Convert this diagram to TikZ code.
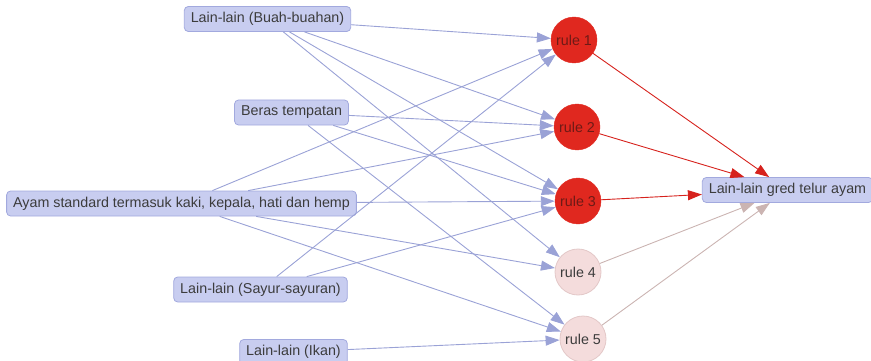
\documentclass[tikz,border=0pt]{standalone}
\usepackage{fontspec}
\setmainfont{Liberation Sans}
\usetikzlibrary{arrows.meta}

\definecolor{boxfill}{HTML}{C8CDF0}
\definecolor{boxline}{HTML}{A2A9DE}
\definecolor{edgeblue}{HTML}{9AA2D6}
\definecolor{rulered}{HTML}{E0281F}
\definecolor{rulepink}{HTML}{F4DCDC}
\definecolor{pinkline}{HTML}{E3C8C8}
\definecolor{redge}{HTML}{D6221D}
\definecolor{pedge}{HTML}{CBB4B2}
\definecolor{txt}{HTML}{3C3C3C}
\definecolor{hottxt}{HTML}{6E1A16}

\begin{document}
\begin{tikzpicture}[x=1pt,y=-1pt,
  label font/.style={font=\fontsize{14.3}{16}\selectfont},
  item/.style={label font, draw=boxline, fill=boxfill, rounded corners=4pt,
    minimum height=25pt, inner xsep=6.5pt, inner ysep=0pt, text=txt, line width=0.8pt},
  hotrule/.style={label font, circle, draw=rulered, fill=rulered, minimum size=46pt,
    inner sep=0pt, text=hottxt},
  coldrule/.style={label font, circle, draw=pinkline, fill=rulepink, minimum size=46pt,
    inner sep=0pt, line width=0.8pt, text=txt},
  tip/.style={-{Triangle[length=14pt,width=10pt]}},
  feed/.style={tip, draw=edgeblue, line width=0.9pt},
  firing/.style={tip, draw=redge, line width=0.9pt},
  idle/.style={tip, draw=pedge, line width=0.9pt}]

  \useasboundingbox (0,0) rectangle (871,361);

  % input facts
  \node[item] (buah)  at (267.5,19)  {Lain-lain (Buah-buahan)};
  \node[item] (beras) at (291.5,112.5) {Beras tempatan};
  \node[item] (ayam)  at (181.5,203.5) {Ayam standard termasuk kaki, kepala, hati dan hemp};
  \node[item] (sayur) at (260.5,289.5) {Lain-lain (Sayur-sayuran)};
  \node[item] (ikan)  at (293.5,352) {Lain-lain (Ikan)};

  % rules
  \node[hotrule]  (r1) at (574,40)  {rule 1};
  \node[hotrule]  (r2) at (577,127) {rule 2};
  \node[hotrule]  (r3) at (578,201) {rule 3};
  \node[coldrule] (r4) at (578,272) {rule 4};
  \node[coldrule] (r5) at (583,339) {rule 5};

  % conclusion
  \node[item] (out) at (787.5,190) {Lain-lain gred telur ayam};

  % facts feeding the rules
  \foreach \r in {r1,r2,r3,r4} \draw[feed] (buah) -- (\r);
  \foreach \r in {r2,r3,r5}    \draw[feed] (beras) -- (\r);
  \foreach \r in {r1,r2,r3,r4,r5} \draw[feed] (ayam) -- (\r);
  \foreach \r in {r1,r3}       \draw[feed] (sayur) -- (\r);
  \draw[feed] (ikan) -- (r5);

  % rules concluding
  \foreach \r in {r1,r2,r3} \draw[firing] (\r) -- (out);
  \foreach \r in {r4,r5}    \draw[idle] (\r) -- (out);
\end{tikzpicture}
\end{document}
